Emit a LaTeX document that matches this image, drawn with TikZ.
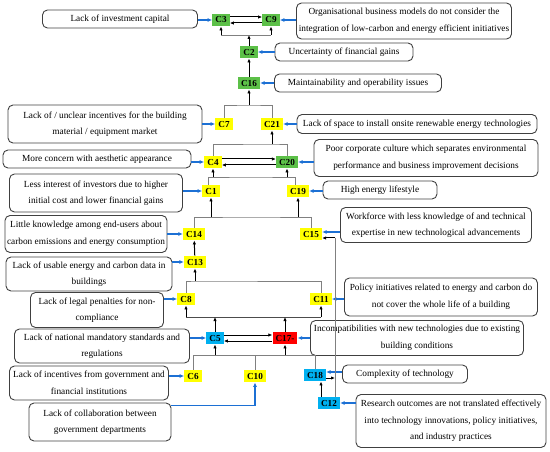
\documentclass[tikz,border=0pt]{standalone}
\usepackage{fontspec}
\setmainfont{Liberation Serif}
\usetikzlibrary{arrows.meta}

\definecolor{cgreen}{RGB}{92,192,72}
\definecolor{cyellow}{RGB}{255,255,0}
\definecolor{cblue}{RGB}{0,176,240}
\definecolor{cred}{RGB}{255,0,0}
\definecolor{linkblue}{RGB}{28,112,212}

\begin{document}
\begin{tikzpicture}[x=1pt, y=-1pt,
  factor/.style={font=\fontsize{9.2}{10}\selectfont\bfseries, inner xsep=3pt, inner ysep=0pt, minimum height=12.5pt},
  cause/.style={draw=black!75, line width=0.9pt, rounded corners=5pt, align=center, font=\fontsize{9.3}{16.5}\selectfont, inner sep=0pt},
  link/.style={draw=linkblue, line width=1.2pt, -{Latex[length=4.5pt,width=4pt]}},
  flow/.style={draw=black, line width=1pt, -{Latex[length=4pt,width=3.4pt]}},
  bracket/.style={draw=black!50, line width=0.7pt}]
\useasboundingbox (0,0) rectangle (550,452);

% factors
\node[factor, fill=cgreen] (c3) at (221,20) {C3};
\node[factor, fill=cgreen] (c9) at (271,20) {C9};
\node[factor, fill=cgreen] (c2) at (249,52) {C2};
\node[factor, fill=cgreen] (c16) at (249,83) {C16};
\node[factor, fill=cyellow] (c7) at (224,124) {C7};
\node[factor, fill=cyellow] (c21) at (272,124) {C21};
\node[factor, fill=cyellow] (c4) at (213,162) {C4};
\node[factor, fill=cgreen] (c20) at (287,162) {C20};
\node[factor, fill=cyellow] (c1) at (211,191) {C1};
\node[factor, fill=cyellow] (c19) at (298,191) {C19};
\node[factor, fill=cyellow] (c14) at (194,234) {C14};
\node[factor, fill=cyellow] (c15) at (311,234) {C15};
\node[factor, fill=cyellow] (c13) at (195,262) {C13};
\node[factor, fill=cyellow] (c8) at (186,299) {C8};
\node[factor, fill=cyellow] (c11) at (321,299) {C11};
\node[factor, fill=cblue] (c5) at (215,338) {C5};
\node[factor, fill=cred] (c17) at (285,338) {C17-};
\node[factor, fill=cyellow] (c6) at (193,376) {C6};
\node[factor, fill=cyellow] (c10) at (255,376) {C10};
\node[factor, fill=cblue] (c18) at (315,375) {C18};
\node[factor, fill=cblue] (c12) at (329,403) {C12};

% causes
\node[cause, minimum width=155pt, minimum height=18pt] (t3) at (120,19) {Lack of investment capital};
\node[cause, minimum width=215pt, minimum height=36pt] (t9) at (404,21) {Organisational business models do not consider the\\integration of low-carbon and energy efficient initiatives};
\node[cause, minimum width=138pt, minimum height=18pt] (t2) at (344,52) {Uncertainty of financial gains};
\node[cause, minimum width=167pt, minimum height=18pt] (t16) at (358,83) {Maintainability and operability issues};
\node[cause, minimum width=194pt, minimum height=38pt] (t7) at (105,124) {Lack of / unclear incentives for the building\\material / equipment market};
\node[cause, minimum width=240pt, minimum height=19pt] (t21) at (417,124) {Lack of space to install onsite renewable energy technologies};
\node[cause, minimum width=188pt, minimum height=18pt] (t4) at (97,159) {More concern with aesthetic appearance};
\node[cause, minimum width=224pt, minimum height=37pt] (t20) at (426,158) {Poor corporate culture which separates environmental\\performance and business improvement decisions};
\node[cause, minimum width=173pt, minimum height=38pt] (t1) at (96,193) {Less interest of investors due to higher\\initial cost and lower financial gains};
\node[cause, minimum width=114pt, minimum height=18pt] (t19) at (380,190) {High energy lifestyle};
\node[cause, minimum width=191pt, minimum height=35pt] (t15) at (436,225) {Workforce with less knowledge of and technical\\expertise in new technological advancements};
\node[cause, minimum width=162pt, minimum height=37pt] (t14) at (86,234) {Little knowledge among end-users about\\carbon emissions and energy consumption};
\node[cause, minimum width=166pt, minimum height=34pt] (t13) at (89,274) {Lack of usable energy and carbon data in\\buildings};
\node[cause, minimum width=133pt, minimum height=35pt] (t8) at (97,310) {Lack of legal penalties for non-\\compliance};
\node[cause, minimum width=193pt, minimum height=38pt] (t11) at (441,297) {Policy initiatives related to energy and carbon do\\not cover the whole life of a building};
\node[cause, minimum width=213pt, minimum height=35pt] (t17) at (417,338) {Incompatibilities with new technologies due to existing\\building conditions};
\node[cause, minimum width=175pt, minimum height=34pt] (t5) at (102,346) {Lack of national mandatory standards and\\regulations};
\node[cause, minimum width=159pt, minimum height=34pt] (t6) at (89,383) {Lack of incentives from government and\\financial institutions};
\node[cause, minimum width=142pt, minimum height=38pt] (t10) at (100,422) {Lack of collaboration between\\government departments};
\node[cause, minimum width=125pt, minimum height=18pt] (t18) at (405,374) {Complexity of technology};
\node[cause, minimum width=190pt, minimum height=53pt] (t12) at (451,421) {Research outcomes are not translated effectively\\into technology innovations, policy initiatives,\\and industry practices};

% causes to factors
\draw[link] (t3.east |- c3) -- (c3);
\draw[link] (t9.west |- c9) -- (c9);
\draw[link] (t2.west |- c2) -- (c2);
\draw[link] (t16.west |- c16) -- (c16);
\draw[link] (t7.east |- c7) -- (c7);
\draw[link] (t21.west |- c21) -- (c21);
\draw[link] (t4.east |- c4) -- (c4);
\draw[link] (t20.west |- c20) -- (c20);
\draw[link] (t1.east |- c1) -- (c1);
\draw[link] (t19.west |- c19) -- (c19);
\coordinate (p15) at ([yshift=2pt]c15.east);
\draw[link] (p15 -| t15.west) -- (p15);
\draw[link] (t14.east |- c14) -- (c14);
\draw[link] (t13.east |- c13) -- (c13);
\draw[link] (t8.east |- c8) -- (c8);
\draw[link] (t11.west |- c11) -- (c11);
\draw[link] (t17.west |- c17) -- (c17);
\draw[link] (t5.east |- c5) -- (c5);
\draw[link] (t6.east |- c6) -- (c6);
\draw[link] ([yshift=-3pt]t10.north east) -| (c10.south);
\coordinate (p18) at ([yshift=3pt]c18.east);
\draw[link] (p18 -| t18.west) -- (p18);
\draw[link] (t12.west |- c12) -- (c12);

% top: C3 and C9
\draw[flow] ([yshift=3pt]c3.east) -- ([yshift=3pt]c9.west);
\draw[flow] ([yshift=-3pt]c9.west) -- ([yshift=-3pt]c3.east);
\coordinate (j1) at (249,35);
\draw[bracket] (j1 -| c3) -- (j1 -| c9);
\draw[flow] (j1 -| c3) -- (c3);
\draw[flow] (j1 -| c9) -- (c9);
\draw[flow] (c2) -- (j1);
\draw[flow] (c16) -- (c2);

\coordinate (j2) at (249,105);
\draw[bracket] (c7.north) |- (j2) -| (c21.north);
\draw[flow] (j2) -- (c16);

% C4 and C20
\coordinate (j3) at (272,144);
\draw[bracket] (c4.north) |- (j3) -| (c20.north);
\draw[flow] (j3) -- (c21);
\draw[flow] ([yshift=3pt]c4.east) -- ([yshift=3pt]c20.west);
\draw[flow] ([yshift=-3pt]c20.west) -- ([yshift=-3pt]c4.east);

\coordinate (j4) at (250,177);
\draw[bracket] ([xshift=-3pt]c1.north) |- (j4) -| ([xshift=-3pt]c19.north);
\draw[flow] (j4 -| c4) -- (c4);
\draw[flow] (j4 -| c20) -- (c20);

\coordinate (j5) at (250,217);
\draw[bracket] (c14.north) |- (j5) -| (c15.north);
\draw[flow] (j5 -| c1) -- (c1);
\draw[flow] (j5 -| c19) -- (c19);

% middle
\draw[flow] (c13) -- (c14);
\coordinate (j6) at (195,281);
\draw[bracket] (c8.north) |- (j6) -| (c11.north);
\draw[flow] (j6) -- (c13);

\coordinate (j7) at (250,317);
\draw[bracket, draw=black!70] (j7 -| c8) -- (j7 -| c11);
\draw[flow] (j7 -| c8) -- (c8);
\draw[flow] (j7 -| c11) -- (c11);
\draw[flow] (c5) -- (c5 |- j7);
\draw[flow] (c17) -- (c17 |- j7);

% bottom
\draw[flow] ([yshift=3pt]c5.east) -- ([yshift=3pt]c17.west);
\draw[flow] ([yshift=-3pt]c17.west) -- ([yshift=-3pt]c5.east);
\coordinate (j8) at (250,355);
\draw[bracket] (c6.north) |- (j8 -| c18) -- (c18.north);
\draw[bracket] (c10.north) -- (c10 |- j8);
\draw[flow] (j8 -| c5) -- (c5);
\draw[flow] (j8 -| c17) -- (c17);

\coordinate (p12) at ([xshift=-8pt]c12.north);
\draw[flow] (p12) -- (p12 |- c18.south);
\coordinate (j9) at (335,238);
\draw[bracket] (j9 |- c12.north) -- (j9);
\draw[flow] (j9) -- (j9 -| c15.east);
\coordinate (p18b) at ([yshift=-3pt]c18.east);
\draw[flow] (p18b) -- (p18b -| j9);
\end{tikzpicture}
\end{document}
